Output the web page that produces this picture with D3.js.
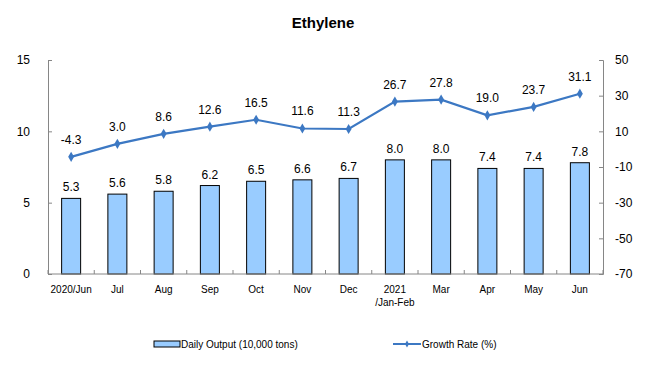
<!DOCTYPE html>
<html><head><meta charset="utf-8">
<script src="https://cdn.jsdelivr.net/npm/d3@7"></script>
<style>body{margin:0;background:#fff}svg{display:block;font-family:"Liberation Sans",Arial,sans-serif}</style>
</head><body><svg id="c" width="653" height="390"></svg>
<script>
const categories = ["2020/Jun","Jul","Aug","Sep","Oct","Nov","Dec","2021\n/Jan-Feb","Mar","Apr","May","Jun"];
const dailyOutput = [5.3,5.6,5.8,6.2,6.5,6.6,6.7,8.0,8.0,7.4,7.4,7.8];
const growthRate = [-4.3,3.0,8.6,12.6,16.5,11.6,11.3,26.7,27.8,19.0,23.7,31.1];
const leftTicks = [0,5,10,15];
const rightTicks = [-70,-50,-30,-10,10,30,50];

const svg = d3.select("#c");
const L=48,R=603,T=60,B=274;
const xb = d3.scaleBand().domain(categories).range([L,R]);
const yL = d3.scaleLinear().domain([0,15]).range([B,T]);
const yR = d3.scaleLinear().domain([-70,50]).range([B,T]);
const axisColor="#868686";

svg.append("text").attr("x",323).attr("y",28).attr("text-anchor","middle")
  .attr("font-size",15).attr("font-weight","bold").text("Ethylene");

// bars
svg.selectAll("rect.bar").data(dailyOutput).join("rect")
  .attr("x",(d,i)=>xb(categories[i])+xb.bandwidth()/2-9.5).attr("width",19)
  .attr("y",d=>yL(d)).attr("height",d=>B-yL(d))
  .attr("fill","#99ccff").attr("stroke","#000").attr("stroke-width",1);
svg.selectAll("text.bl").data(dailyOutput).join("text")
  .attr("x",(d,i)=>xb(categories[i])+xb.bandwidth()/2).attr("y",d=>yL(d)-7)
  .attr("text-anchor","middle").attr("font-size",12).text(d=>d.toFixed(1));

// axes
const gl = svg.append("g").attr("transform",`translate(${L},0)`)
  .call(d3.axisLeft(yL).tickValues(leftTicks).tickSize(-4).tickPadding(18).tickFormat(d=>String(d)));
const gr = svg.append("g").attr("transform",`translate(${R},0)`)
  .call(d3.axisRight(yR).tickValues(rightTicks).tickSize(-4).tickFormat(d=>String(d)));
[gl,gr].forEach(g=>{g.select(".domain").attr("stroke",axisColor);g.selectAll("line").attr("stroke",axisColor);
  g.selectAll("text").attr("font-size",12).attr("fill","#000").attr("font-family","Liberation Sans, Arial");});
gr.selectAll("text").attr("x",12);

// x axis
svg.append("line").attr("x1",L).attr("x2",R).attr("y1",B).attr("y2",B).attr("stroke",axisColor);
const bounds = categories.map(c=>xb(c)).concat([R]);
svg.selectAll("line.xt").data(bounds).join("line")
  .attr("x1",d=>d).attr("x2",d=>d).attr("y1",B-4).attr("y2",B).attr("stroke",axisColor);
categories.forEach((c,i)=>{
  const t = svg.append("text").attr("x",xb(c)+xb.bandwidth()/2).attr("y",B+19)
    .attr("text-anchor","middle").attr("font-size",10)
    .attr("font-family","Liberation Sans Narrow, Liberation Sans, Arial");
  c.split("\n").forEach((s,j)=>t.append("tspan").attr("x",xb(c)+xb.bandwidth()/2).attr("dy",j?13:0).text(s));
});

// line
const cx = i=>xb(categories[i])+xb.bandwidth()/2;
svg.append("path").datum(growthRate)
  .attr("d",d3.line().x((d,i)=>cx(i)).y(d=>yR(d)))
  .attr("fill","none").attr("stroke","#3c78c3").attr("stroke-width",2.2);
svg.selectAll("path.pt").data(growthRate).join("path")
  .attr("transform",(d,i)=>`translate(${cx(i)},${yR(d)})`)
  .attr("d",d3.symbol(d3.symbolDiamond,30)).attr("fill","#3c78c3");
svg.selectAll("text.ll").data(growthRate).join("text")
  .attr("x",(d,i)=>cx(i)).attr("y",d=>yR(d)-13)
  .attr("text-anchor","middle").attr("font-size",12).text(d=>d.toFixed(1));

// legend
svg.append("rect").attr("x",154).attr("y",341).attr("width",26).attr("height",6)
  .attr("fill","#99ccff").attr("stroke","#000");
svg.append("text").attr("x",181).attr("y",348).attr("font-size",10)
  .attr("font-family","Liberation Sans Narrow, Liberation Sans, Arial").text("Daily Output (10,000 tons)");
svg.append("line").attr("x1",393).attr("x2",421).attr("y1",344).attr("y2",344).attr("stroke","#3c78c3").attr("stroke-width",2);
svg.append("path").attr("transform","translate(407,344)").attr("d",d3.symbol(d3.symbolDiamond,14)).attr("fill","#3c78c3");
svg.append("text").attr("x",422).attr("y",348).attr("font-size",10)
  .attr("font-family","Liberation Sans Narrow, Liberation Sans, Arial").text("Growth Rate (%)");
</script></body></html>
